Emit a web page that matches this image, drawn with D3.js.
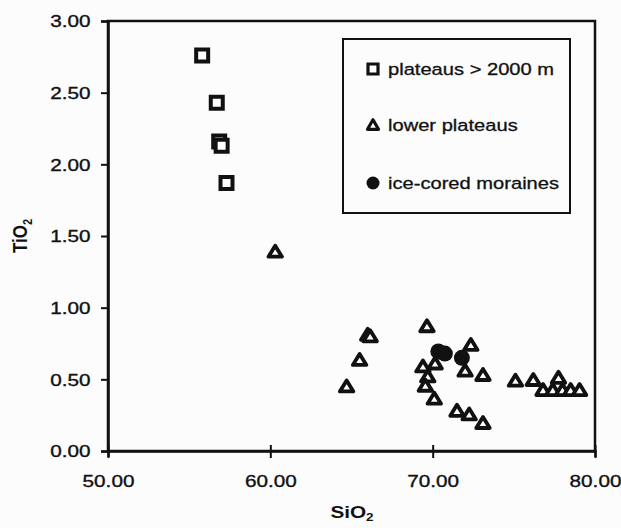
<!DOCTYPE html>
<html>
<head>
<meta charset="utf-8">
<script src="https://cdn.jsdelivr.net/npm/d3@7"></script>
<style>
  html, body { margin: 0; padding: 0; background: #fcfcfc; }
  svg { display: block; font-family: "Liberation Sans", Arial, sans-serif; }
</style>
</head>
<body>
<svg id="chart" width="621" height="528"></svg>
<script>
// ---- data ----
const plateauSiO2 = [55.8, 56.7, 56.85, 57.0, 57.3];
const plateauTiO2 = [2.76, 2.43, 2.16, 2.13, 1.87];

const lowerSiO2 = [60.3, 66.0, 66.15, 65.5, 64.7, 69.65, 69.4, 70.15, 69.7, 69.55, 70.1,
                   72.35, 72.0, 73.1, 71.5, 72.25, 73.1,
                   75.1, 76.2, 77.75, 76.8, 77.4, 78.0, 78.5, 79.05];
const lowerTiO2 = [1.39, 0.81, 0.80, 0.635, 0.45, 0.87, 0.59, 0.61, 0.52, 0.455, 0.365,
                   0.74, 0.56, 0.53, 0.28, 0.255, 0.195,
                   0.49, 0.495, 0.51, 0.425, 0.425, 0.425, 0.425, 0.425];

const moraineSiO2 = [70.35, 70.75, 71.8];
const moraineTiO2 = [0.695, 0.68, 0.65];

const xTicks = [50, 60, 70, 80];
const yTicks = [0, 0.5, 1.0, 1.5, 2.0, 2.5, 3.0];
const legendLabels = ["plateaus > 2000 m", "lower plateaus", "ice-cored moraines"];

(function () {
// ---- layout ----
const SX = 1.22; // horizontal stretch of the scanned text
const ink = "#111";
const pL = 108, pR = 595, pT = 21, pB = 451;

const svg = d3.select("#chart");
const x = d3.scaleLinear().domain([50, 80]).range([pL, pR]);
const y = d3.scaleLinear().domain([0, 3]).range([pB, pT]);

// frame
svg.append("rect")
  .attr("x", pL).attr("y", pT)
  .attr("width", pR - pL).attr("height", pB - pT)
  .attr("fill", "none").attr("stroke", ink).attr("stroke-width", 2.5);

// y axis
const gy = svg.append("g").attr("transform", `translate(${pL},0)`)
  .call(d3.axisLeft(y).tickValues(yTicks).tickFormat(d3.format(".2f")).tickSizeOuter(0).tickSize(7));
gy.select(".domain").attr("stroke", ink).attr("stroke-width", 2.5);
gy.selectAll(".tick line").attr("stroke", ink).attr("stroke-width", 2);
gy.selectAll(".tick text")
  .attr("x", -17.5 / SX).attr("dy", "0.34em")
  .attr("transform", `scale(${SX},1)`)
  .attr("fill", ink).attr("stroke", ink).attr("stroke-width", 0.35)
  .style("font-size", "17px").style("font-family", "Liberation Sans, Arial, sans-serif");

// x axis
const gx = svg.append("g").attr("transform", `translate(0,${pB})`)
  .call(d3.axisBottom(x).tickValues(xTicks).tickFormat(d3.format(".2f")).tickSizeOuter(0).tickSize(6));
gx.select(".domain").attr("stroke", ink).attr("stroke-width", 2.5);
gx.selectAll(".tick line").attr("stroke", ink).attr("stroke-width", 2).attr("y1", -6).attr("y2", 7);
gx.selectAll(".tick text")
  .attr("y", 36.5).attr("dy", 0)
  .attr("transform", `scale(${SX},1)`)
  .attr("x", 0)
  .attr("fill", ink).attr("stroke", ink).attr("stroke-width", 0.35)
  .style("font-size", "17px").style("font-family", "Liberation Sans, Arial, sans-serif");

// axis titles
const tY = svg.append("text")
  .attr("transform", `translate(27,236) rotate(-90) scale(1,${SX})`)
  .attr("text-anchor", "middle")
  .attr("fill", ink).style("font-size", "17px").style("font-weight", "bold");
tY.append("tspan").text("TiO");
tY.append("tspan").text("2").attr("dy", 4).style("font-size", "11px");

const tX = svg.append("text")
  .attr("transform", `translate(352,518) scale(${SX},1)`)
  .attr("text-anchor", "middle")
  .attr("fill", ink).style("font-size", "17px").style("font-weight", "bold");
tX.append("tspan").text("SiO");
tX.append("tspan").text("2").attr("dy", 3).style("font-size", "11px");

// marker paths
const squarePath = s => `M${-s/2},${-s/2}H${s/2}V${s/2}H${-s/2}Z`;
const triPath = (w, h) => `M0,${-h*0.55}L${w/2},${h*0.45}L${-w/2},${h*0.45}Z`;

// lower plateaus (triangles)
svg.append("g").selectAll("path").data(d3.range(lowerSiO2.length)).join("path")
  .attr("transform", i => `translate(${x(lowerSiO2[i])},${y(lowerTiO2[i])})`)
  .attr("d", triPath(13.5, 11))
  .attr("fill", "white").attr("stroke", ink).attr("stroke-width", 3.8)
  .attr("stroke-linejoin", "round");

// plateaus > 2000 m (squares)
svg.append("g").selectAll("path").data(d3.range(plateauSiO2.length)).join("path")
  .attr("transform", i => `translate(${x(plateauSiO2[i])},${y(plateauTiO2[i])})`)
  .attr("d", squarePath(12))
  .attr("fill", "white").attr("stroke", ink).attr("stroke-width", 4);

// ice-cored moraines (filled circles)
svg.append("g").selectAll("circle").data(d3.range(moraineSiO2.length)).join("circle")
  .attr("cx", i => x(moraineSiO2[i])).attr("cy", i => y(moraineTiO2[i]))
  .attr("r", 8).attr("fill", ink);

// legend
const lg = svg.append("g");
lg.append("rect").attr("x", 343).attr("y", 39).attr("width", 227).attr("height", 174)
  .attr("fill", "#fcfcfc").attr("stroke", ink).attr("stroke-width", 2);
const legendY = [69, 125, 183];
lg.append("path").attr("transform", `translate(373,${legendY[0]})`).attr("d", squarePath(10))
  .attr("fill", "white").attr("stroke", ink).attr("stroke-width", 3.2);
lg.append("path").attr("transform", `translate(373,${legendY[1]})`).attr("d", triPath(11, 9.5))
  .attr("fill", "white").attr("stroke", ink).attr("stroke-width", 3.2).attr("stroke-linejoin", "round");
lg.append("circle").attr("cx", 373).attr("cy", legendY[2]).attr("r", 6.5).attr("fill", ink);
legendLabels.forEach((t, i) => {
  lg.append("text")
    .attr("transform", `translate(388,${legendY[i] + 6}) scale(${SX},1)`)
    .attr("fill", ink).attr("stroke", ink).attr("stroke-width", 0.3)
    .style("font-size", "16.5px")
    .text(t);
});
})();
</script>
</body>
</html>
